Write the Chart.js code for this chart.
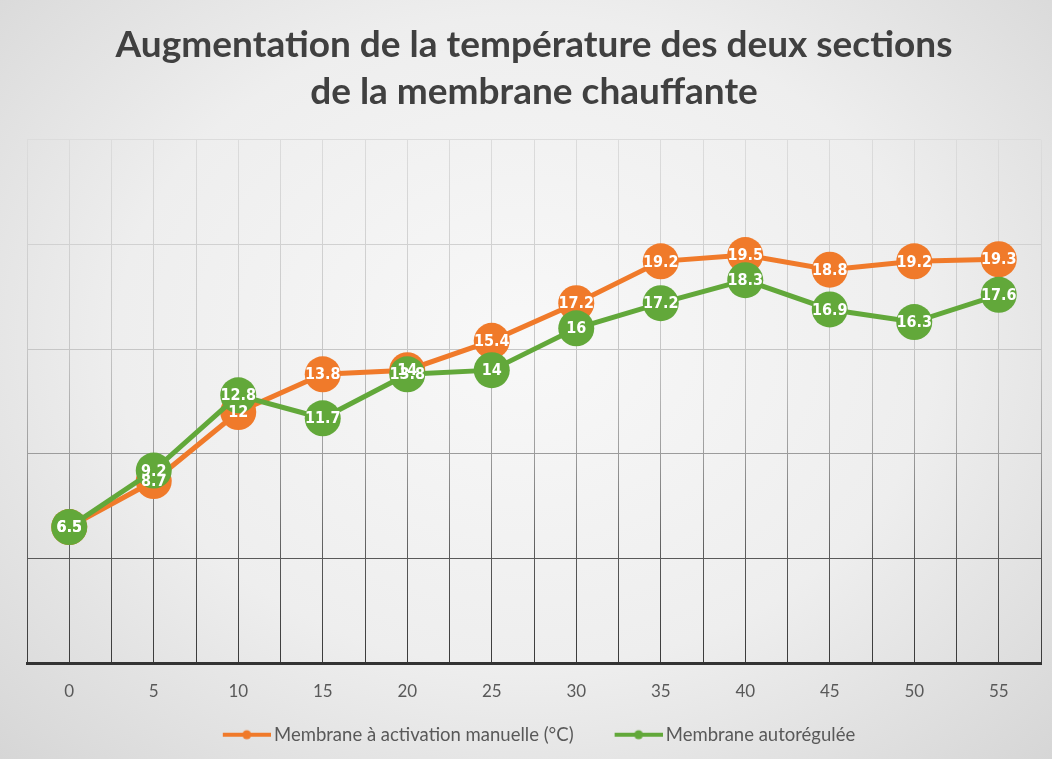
<!DOCTYPE html>
<html>
<head>
<meta charset="utf-8">
<script src="https://cdn.jsdelivr.net/npm/chart.js@4.4.1/dist/chart.umd.min.js"></script>
<style>
  html, body { margin: 0; padding: 0; }
  body {
    width: 1052px; height: 759px; overflow: hidden;
    background: radial-gradient(ellipse at 50% 45%, #f8f8f8 0%, #eeeeee 55%, #d6d6d6 100%);
  }
  #wrap { position: relative; width: 1052px; height: 759px; }
</style>
</head>
<body>
<div id="wrap"><canvas id="tempChart"></canvas></div>
<script>
// minutes
var minutes = [0, 5, 10, 15, 20, 25, 30, 35, 40, 45, 50, 55];
// temperature rise (°C)
var manualValues = [6.5, 8.7, 12, 13.8, 14, 15.4, 17.2, 19.2, 19.5, 18.8, 19.2, 19.3];
var autoValues = [6.5, 9.2, 12.8, 11.7, 13.8, 14, 16, 17.2, 18.3, 16.9, 16.3, 17.6];
var seriesNames = ["Membrane à activation manuelle (°C)", "Membrane autorégulée"];
var titleLines = ["Augmentation de la température des deux sections", "de la membrane chauffante"];
var yTicks = [0, 5, 10, 15, 20, 25];

var ORANGE = "#f07a2a";
var GREEN = "#62a83a";
var FONT = "Lato, 'Open Sans', sans-serif";

// gridlines fade from light at the top to dark near the axis
function gridColor(ctx) {
    var chart = ctx.chart;
    var a = chart.chartArea;
    if (!a) return "#999";
    var g = chart.ctx.createLinearGradient(0, a.top, 0, a.bottom);
    g.addColorStop(0, "#dcdcdc");
    g.addColorStop(0.4, "#c6c6c6");
    g.addColorStop(0.6, "#9c9c9c");
    g.addColorStop(0.8, "#595959");
    g.addColorStop(1, "#3a3a3a");
    return g;
}

// legend swatch: line with a small marker, empty space on the left keeps items apart
function legendSwatch(color) {
    var c = document.createElement("canvas");
    c.width = 88;
    c.height = 12;
    var x = c.getContext("2d");
    x.strokeStyle = color;
    x.lineWidth = 4;
    x.beginPath();
    x.moveTo(40, 6);
    x.lineTo(88, 6);
    x.stroke();
    x.fillStyle = color;
    x.beginPath();
    x.arc(64, 6, 4.5, 0, Math.PI * 2);
    x.fill();
    return c;
}

// value labels written inside each marker
var pointLabels = {
    id: "pointLabels",
    afterDatasetsDraw: function (chart) {
        var ctx = chart.ctx;
        ctx.save();
        ctx.font = "bold 16px 'DejaVu Sans Condensed', 'Liberation Sans Narrow', sans-serif";
        ctx.fillStyle = "#ffffff";
        ctx.textAlign = "center";
        ctx.textBaseline = "middle";
        chart.data.datasets.forEach(function (ds, i) {
            var meta = chart.getDatasetMeta(i);
            meta.data.forEach(function (pt, j) {
                ctx.fillText(String(ds.data[j]), pt.x, pt.y + 1);
            });
        });
        ctx.restore();
    }
};

// the swatch's blank lead-in pushes the legend right; pull it back
var legendNudge = {
    id: "legendNudge",
    afterLayout: function (chart) {
        if (chart.legend) {
            chart.legend.left -= 12;
            chart.legend.right -= 12;
        }
    }
};

new Chart("tempChart", {
    type: "line",
    data: {
        labels: minutes,
        datasets: [{
            label: seriesNames[0],
            data: manualValues,
            borderColor: ORANGE,
            backgroundColor: ORANGE,
            borderWidth: 5,
            pointRadius: 18,
            pointHoverRadius: 18,
            pointBorderWidth: 0,
            pointBackgroundColor: ORANGE,
            pointStyle: "circle",
            lineTension: 0,
            order: 1
        }, {
            label: seriesNames[1],
            data: autoValues,
            borderColor: GREEN,
            backgroundColor: GREEN,
            borderWidth: 5,
            pointRadius: 18,
            pointHoverRadius: 18,
            pointBorderWidth: 0,
            pointBackgroundColor: GREEN,
            pointStyle: "circle",
            lineTension: 0,
            order: 0
        }]
    },
    options: {
        responsive: true,
        maintainAspectRatio: false,
        animation: false,
        layout: { autoPadding: false, padding: { left: 27, right: 11, top: 0, bottom: 5 } },
        scales: {
            x: {
                type: "linear",
                min: -2.5,
                max: 57.5,
                // extra room between the tick labels and the legend
                afterFit: function (axis) { axis.height += 17; },
                ticks: {
                    stepSize: 2.5,
                    autoSkip: false,
                    maxRotation: 0,
                    padding: 0,
                    color: "#595959",
                    font: { family: FONT, size: 17 },
                    callback: function (v) { return v % 5 === 0 ? String(v) : ""; }
                },
                // invisible tick marks keep the labels clear of the axis
                grid: { color: gridColor, lineWidth: 1, drawTicks: true, tickLength: 18, tickColor: "rgba(0,0,0,0)" },
                border: { display: true, color: "#333333", width: 3 }
            },
            y: {
                min: yTicks[0],
                max: yTicks[yTicks.length - 1],
                afterBuildTicks: function (axis) {
                    axis.ticks = yTicks.map(function (v) { return { value: v }; });
                },
                ticks: { display: false },
                grid: { color: gridColor, lineWidth: 1, drawTicks: false },
                border: { display: false }
            }
        },
        plugins: {
            title: {
                display: true,
                text: titleLines,
                color: "#404040",
                font: { family: FONT, size: 37, weight: "bold", lineHeight: 1.27 },
                padding: { top: 22, bottom: 24 }
            },
            legend: {
                position: "bottom",
                labels: {
                    usePointStyle: true,
                    pointStyleWidth: 76,
                    boxHeight: 12,
                    padding: 7,
                    color: "#595959",
                    font: { family: FONT, size: 18.5 },
                    generateLabels: function (chart) {
                        return chart.data.datasets.map(function (ds, i) {
                            return {
                                text: ds.label,
                                pointStyle: legendSwatch(ds.borderColor),
                                fillStyle: ds.borderColor,
                                strokeStyle: ds.borderColor,
                                lineWidth: 0,
                                fontColor: "#595959",
                                hidden: false,
                                datasetIndex: i
                            };
                        });
                    }
                }
            },
            tooltip: { enabled: false }
        }
    },
    plugins: [pointLabels, legendNudge]
});
</script>
</body>
</html>
